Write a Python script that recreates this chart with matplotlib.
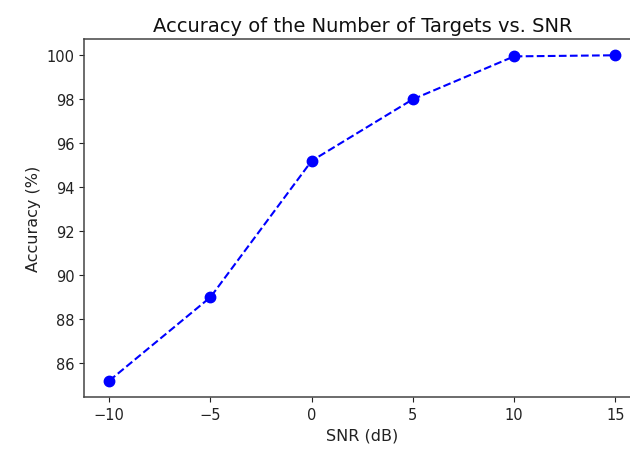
import numpy as np
import matplotlib
matplotlib.use("Agg")
import matplotlib.pyplot as plt

# SNR levels and measured accuracy
snr_db = [-10, -5, 0, 5, 10, 15]
accuracy = [85.2, 89.0, 95.2, 98.0, 99.95, 100.0]
x_ticks = [-10, -5, 0, 5, 10, 15]
y_ticks = [86, 88, 90, 92, 94, 96, 98, 100]

fig = plt.figure(figsize=(6.3, 4.52), dpi=100)
# axes run a little past the right edge, like the cropped reference
ax = fig.add_axes([0.1333, 0.1195, 0.8835, 0.7920])
ax.plot(snr_db, accuracy, 'bo--', markersize=7.5, linewidth=1.5)
ax.set_xticks(x_ticks)
ax.set_yticks(y_ticks)
ax.set_xlim(-11.25, 16.25)
ax.set_ylim(84.46, 100.74)
ax.spines['right'].set_visible(False)
for s in ax.spines.values():
    s.set_color('#444444')
    s.set_linewidth(1.1)
ax.tick_params(labelsize=10.5, colors='#222222')
ax.set_xlabel('SNR (dB)', fontsize=11.5, color='#222222')
ax.set_ylabel('Accuracy (%)', fontsize=11.5, color='#222222')
ax.set_title('Accuracy of the Number of Targets vs. SNR', fontsize=14, color='#111111')

fig.savefig('out.png', dpi=100)
